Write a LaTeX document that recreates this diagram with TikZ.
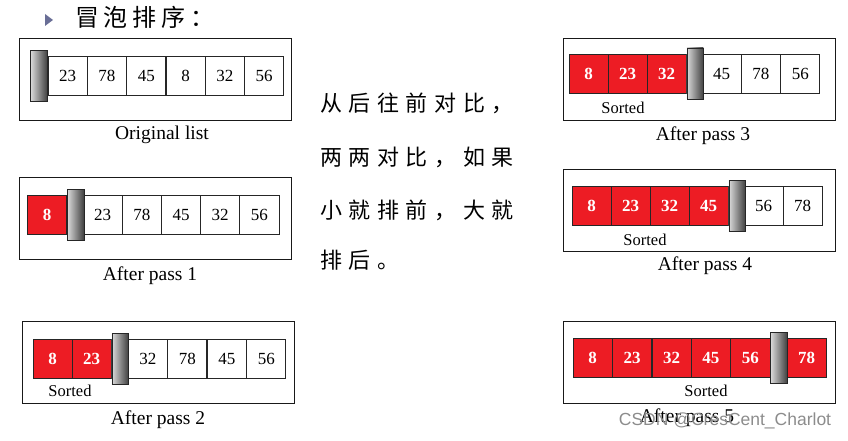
\documentclass[tikz,border=0pt]{standalone}
\usepackage{fontspec}
\setmainfont{Liberation Serif}
\newfontfamily\cjknote{Noto Sans CJK SC}[LetterSpace=30]
\newfontfamily\cjktitle{Noto Sans CJK SC}[LetterSpace=20]
\newfontfamily\wmfont{Liberation Sans}
\usetikzlibrary{positioning}
\definecolor{sortred}{HTML}{ED1C24}
\definecolor{bulletblue}{RGB}{105,110,150}
\tikzset{
  frame/.style={draw=black!90, line width=0.9pt, minimum width=272pt, minimum height=82pt, inner sep=0pt},
  cell/.style={draw=black!85, line width=0.8pt, fill=white, minimum width=39.2pt, minimum height=39pt,
    inner sep=0pt, font=\fontsize{17}{17}\selectfont},
  sorted/.style={cell, fill=sortred, text=white, font=\fontsize{17}{17}\selectfont\bfseries},
  divider/.style={draw=black!85, line width=0.8pt, left color=black!15, right color=black!75,
    minimum width=16.5pt, minimum height=51pt, inner sep=0pt},
  caption/.style={inner sep=0pt, font=\fontsize{19.5}{19.5}\selectfont},
  sortlabel/.style={inner sep=0pt, font=\fontsize{16.5}{16.5}\selectfont},
  note/.style={anchor=west, inner sep=0pt, font=\fontsize{22}{22}\selectfont\cjknote}
}
\begin{document}
\begin{tikzpicture}[x=1pt, y=-1pt]
  \useasboundingbox (0,0) rectangle (848,441);

  % title
  \fill[bulletblue] (45,14) -- (53,20) -- (45,26) -- cycle;
  \node[anchor=west, inner sep=0pt, font=\fontsize{24}{24}\selectfont\cjktitle] (title) at (75,17) {冒泡排序：};

  % original list
  \node[frame] (f0) at (155.5,79) {};
  \foreach \v [count=\i] in {23,78,45,8,32,56}
    \node[cell] (u0\i) at ({48+39.3*\i-19.65},76) {\v};
  \node[divider, left=0pt of u01] (d0) {};
  \node[caption] (t0) at (162,135) {Original list};

  % after pass 1
  \node[frame] (f1) at (155.5,218) {};
  \node[sorted] (s11) at (47,214.5) {8};
  \foreach \v [count=\i] in {23,78,45,32,56}
    \node[cell] (u1\i) at ({83+39.2*\i-19.6},214.5) {\v};
  \node[divider, right=0pt of s11] (d1) {};
  \node[caption] (t1) at (150,276) {After pass 1};

  % after pass 2
  \node[frame] (f2) at (158.5,362.5) {};
  \foreach \v [count=\i] in {8,23}
    \node[sorted] (s2\i) at ({33+39*\i-19.5},358.5) {\v};
  \foreach \v [count=\i] in {32,78,45,56}
    \node[cell] (u2\i) at ({128+39.5*\i-19.75},358.5) {\v};
  \node[divider, right=0pt of s22] (d2) {};
  \node[sortlabel] (l2) at (70,391) {Sorted};
  \node[caption] (t2) at (158,420) {After pass 2};

  % after pass 3
  \node[frame] (f3) at (699,79) {};
  \foreach \v [count=\i] in {8,23,32}
    \node[sorted] (s3\i) at ({569+39*\i-19.5},73.5) {\v};
  \foreach \v [count=\i] in {45,78,56}
    \node[cell] (u3\i) at ({702+39.3*\i-19.65},73.5) {\v};
  \node[divider, right=0pt of s33] (d3) {};
  \node[sortlabel] (l3) at (623,108) {Sorted};
  \node[caption] (t3) at (703,136) {After pass 3};

  % after pass 4
  \node[frame] (f4) at (699,210) {};
  \foreach \v [count=\i] in {8,23,32,45}
    \node[sorted] (s4\i) at ({572+39*\i-19.5},205.5) {\v};
  \foreach \v [count=\i] in {56,78}
    \node[cell] (u4\i) at ({744+39*\i-19.5},205.5) {\v};
  \node[divider, right=0pt of s44] (d4) {};
  \node[sortlabel] (l4) at (645,240) {Sorted};
  \node[caption] (t4) at (705,266) {After pass 4};

  % after pass 5
  \node[frame] (f5) at (699,362.5) {};
  \foreach \v [count=\i] in {8,23,32,45,56}
    \node[sorted] (s5\i) at ({573+39.4*\i-19.7},357.5) {\v};
  \node[sorted] (s56) at (806.5,357.5) {78};
  \node[divider, right=0pt of s55] (d5) {};
  \node[sortlabel] (l5) at (706,391) {Sorted};
  \node[caption] (t5) at (687,418) {After pass 5};

  % notes
  \node[note] (n1) at (320,103) {从后往前对比，};
  \node[note] (n2) at (320,157) {两两对比，如果};
  \node[note] (n3) at (320,210) {小就排前，大就};
  \node[note] (n4) at (320,260) {排后。};

  % watermark
  \node[inner sep=0pt, text=black!45, font=\fontsize{17.5}{17.5}\selectfont\wmfont] (wm) at (725,421) {CSDN @CresCent\_Charlot};
\end{tikzpicture}
\end{document}
